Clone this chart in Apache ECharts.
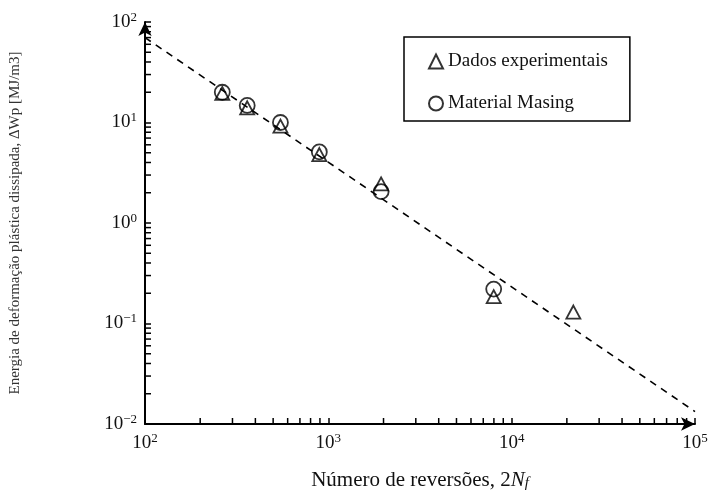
<!DOCTYPE html>
<html><head><meta charset="utf-8">
<script src="https://cdn.jsdelivr.net/npm/echarts@6/dist/echarts.min.js"></script>
<style>html,body{margin:0;padding:0;background:#fff}#c{width:712px;height:498px}</style>
</head><body><div id="c"></div>
<script>
// Data
const expX = [264, 361, 548, 893, 1940, 7980, 21700];
const expY = [19.5, 14.0, 9.2, 4.8, 2.45, 0.185, 0.13];
const masX = [264, 361, 548, 893, 1940, 7980];
const masY = [20.0, 14.8, 10.0, 5.1, 2.05, 0.22];
const fitX = [100, 100000];
const fitY = [70, 0.0133];
const xDecades = [2, 3, 4];
const yDecades = [-2, -1, 0, 1];
const seriesNames = ['Dados experimentais', 'Material Masing'];
const xTitle = 'Número de reversões, 2';
const yTitle = 'Energia de deformação plástica dissipada, ΔWp [MJ/m3]';

const FONT = '"Liberation Serif", "Times New Roman", serif';
const minorX = [], minorY = [];
xDecades.forEach(d => { for (let k = 2; k <= 9; k++) minorX.push([k * Math.pow(10, d), 0.01, 0]); });
yDecades.forEach(d => { for (let k = 2; k <= 9; k++) minorY.push([100, +(k * Math.pow(10, d)).toPrecision(3), 1]); });

function powLabel(v) {
  const e = Math.round(Math.log10(v));
  return '{b|10}{s|' + (e < 0 ? '\u2212' + (-e) : e) + '}';
}
const labelRich = {
  b: {fontFamily: FONT, fontSize: 19, color: '#111'},
  s: {fontFamily: FONT, fontSize: 13, color: '#111', verticalAlign: 'top', padding: [0, 0, 9, 0]}
};

const chart = echarts.init(document.getElementById('c'), null, {renderer: 'canvas'});
chart.setOption({
  animation: false,
  backgroundColor: '#fff',
  grid: {left: 143, right: 17, top: 22, bottom: 74, containLabel: false},
  legend: {
    orient: 'vertical', left: 404, top: 37,
    data: seriesNames,
    itemWidth: 14, itemHeight: 14, itemGap: 23,
    padding: [15, 22, 8, 24],
    borderColor: '#000', borderWidth: 1.5,
    textStyle: {fontFamily: FONT, fontSize: 19, color: '#111'}
  },
  xAxis: {
    type: 'log', logBase: 10, min: 100, max: 100000,
    name: '{t|' + xTitle + '}{i|N}{f|f}',
    nameLocation: 'middle', nameGap: 45,
    nameTextStyle: {rich: {
      t: {fontFamily: FONT, fontSize: 21, color: '#111'},
      i: {fontFamily: FONT, fontSize: 21, fontStyle: 'italic', color: '#111'},
      f: {fontFamily: FONT, fontSize: 15, fontStyle: 'italic', color: '#111', verticalAlign: 'bottom', padding: [7, 0, 0, 0]}
    }},
    axisLine: {show: true, lineStyle: {color: '#000', width: 2}, symbol: ['none', 'arrow'], symbolSize: [10, 14]},
    axisTick: {show: true, inside: true, length: 6, lineStyle: {color: '#000', width: 1.5}},
    axisLabel: {margin: 8, formatter: powLabel, rich: labelRich},
    splitLine: {show: false},
    minorTick: {show: false}
  },
  yAxis: {
    type: 'log', logBase: 10, min: 0.01, max: 100,
    name: yTitle, nameLocation: 'middle', nameGap: 122,
    nameTextStyle: {fontFamily: FONT, fontSize: 15, color: '#333'},
    axisLine: {show: true, lineStyle: {color: '#000', width: 2}, symbol: ['none', 'arrow'], symbolSize: [10, 14]},
    axisTick: {show: true, inside: true, length: 6, lineStyle: {color: '#000', width: 1.5}},
    axisLabel: {margin: 8, formatter: powLabel, rich: labelRich},
    splitLine: {show: false}
  },
  series: [
    {
      name: 'fit', type: 'line', data: fitX.map((x, i) => [x, fitY[i]]),
      symbol: 'none', lineStyle: {color: '#000', width: 1.6, type: [7, 6]}, z: 2
    },
    {
      name: seriesNames[1], type: 'scatter', data: masX.map((x, i) => [x, masY[i]]),
      symbol: 'circle', symbolSize: 15,
      itemStyle: {color: 'rgba(255,255,255,0)', borderColor: '#000', borderWidth: 1.8}, z: 3
    },
    {
      name: seriesNames[0], type: 'scatter', data: expX.map((x, i) => [x, expY[i]]),
      symbol: 'triangle', symbolSize: [14, 13],
      itemStyle: {color: 'rgba(255,255,255,0)', borderColor: '#000', borderWidth: 1.8}, z: 4
    },
    {
      name: 'minorTicks', type: 'custom', data: minorX.concat(minorY), silent: true, clip: false, z: 5,
      renderItem: function (params, api) {
        const p = api.coord([api.value(0), api.value(1)]);
        const dir = api.value(2);
        const len = 6;
        const shape = dir === 0
          ? {x1: p[0], y1: p[1], x2: p[0], y2: p[1] - len}
          : {x1: p[0], y1: p[1], x2: p[0] + len, y2: p[1]};
        return {type: 'line', shape: shape, style: {stroke: '#000', lineWidth: 1.5}};
      }
    }
  ]
});
</script></body></html>
